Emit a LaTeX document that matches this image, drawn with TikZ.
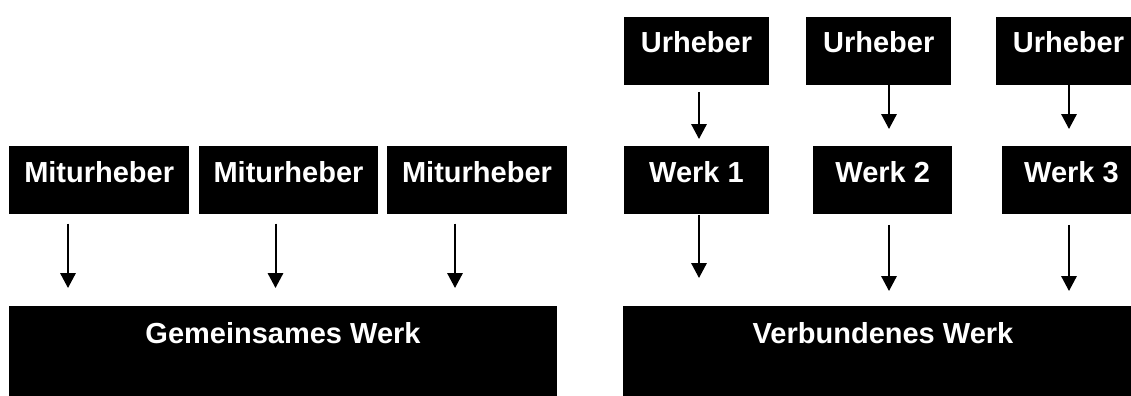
\documentclass[tikz,border=0pt]{standalone}
\usepackage{fontspec}
\setmainfont{Liberation Sans}
\usetikzlibrary{arrows.meta,calc}
\tikzset{
  box/.style    = {fill=black, text=white, anchor=north, inner sep=0pt,
                   font=\fontsize{14.5}{17}\selectfont\bfseries,
                   text height=18pt, text depth=16pt},
  bigbox/.style = {box, text height=18.5pt, text depth=30pt},
  sig/.style    = {-{Triangle[length=7.5pt,width=7.7pt]}, line width=1pt},
}

\begin{document}
\begin{tikzpicture}[x=0.5pt,y=-0.5pt]
\useasboundingbox (0,0) rectangle (1131,396);
% gemeinsames Werk
\node[box,minimum width=89.75pt] (mit1) at (99.2,146) {Miturheber};
\node[box,minimum width=89.75pt] (mit2) at (288.5,146) {Miturheber};
\node[box,minimum width=89.75pt] (mit3) at (477,146) {Miturheber};
\node[bigbox,minimum width=273.7pt] (gem) at (283,306) {Gemeinsames Werk};
\coordinate (m1) at ([xshift=-15.6pt]mit1.south);
\coordinate (m2) at ([xshift=-6.5pt]mit2.south);
\coordinate (m3) at ([xshift=-11pt]mit3.south);
\foreach \m in {m1,m2,m3}
  \draw[sig,shorten >=9pt] ([yshift=-4.35pt]\m) -- (\m |- gem.north);
% verbundenes Werk
\node[box,minimum width=72.75pt] (urh1) at (696.5,16.5) {Urheber};
\node[box,minimum width=72.75pt] (urh2) at (878.7,16.5) {Urheber};
\node[box,minimum width=72.75pt] (urh3) at (1068.5,16.5) {Urheber};
\node[box,minimum width=72.75pt] (werk1) at (696.5,146) {Werk 1};
\node[box,minimum width=69.5pt] (werk2) at (882.7,146) {Werk 2};
\node[box,minimum width=69.5pt] (werk3) at (1071.5,146) {Werk 3};
\node[bigbox,minimum width=260pt] (verb) at (883,306) {Verbundenes Werk};
\coordinate (u1) at ([xshift=1.25pt]urh1.south);
\coordinate (u2) at ([xshift=5.15pt]urh2.south);
\coordinate (u3) at ([xshift=0.25pt]urh3.south);
\draw[sig,shorten >=3.5pt] ([yshift=-3.25pt]u1) -- (u1 |- werk1.north);
\draw[sig,shorten >=8.5pt] (u2) -- (u2 |- werk2.north);
\draw[sig,shorten >=8.5pt] (u3) -- (u3 |- werk3.north);
\coordinate (w1) at ([xshift=1.25pt]werk1.south);
\coordinate (w2) at ([xshift=3.15pt]werk2.south);
\coordinate (w3) at ([xshift=-1.25pt]werk3.south);
\draw[sig,shorten >=14pt] (w1) -- (w1 |- verb.north);
\draw[sig,shorten >=7.5pt] ([yshift=-5pt]w2) -- (w2 |- verb.north);
\draw[sig,shorten >=7.5pt] ([yshift=-5pt]w3) -- (w3 |- verb.north);
\end{tikzpicture}
\end{document}
